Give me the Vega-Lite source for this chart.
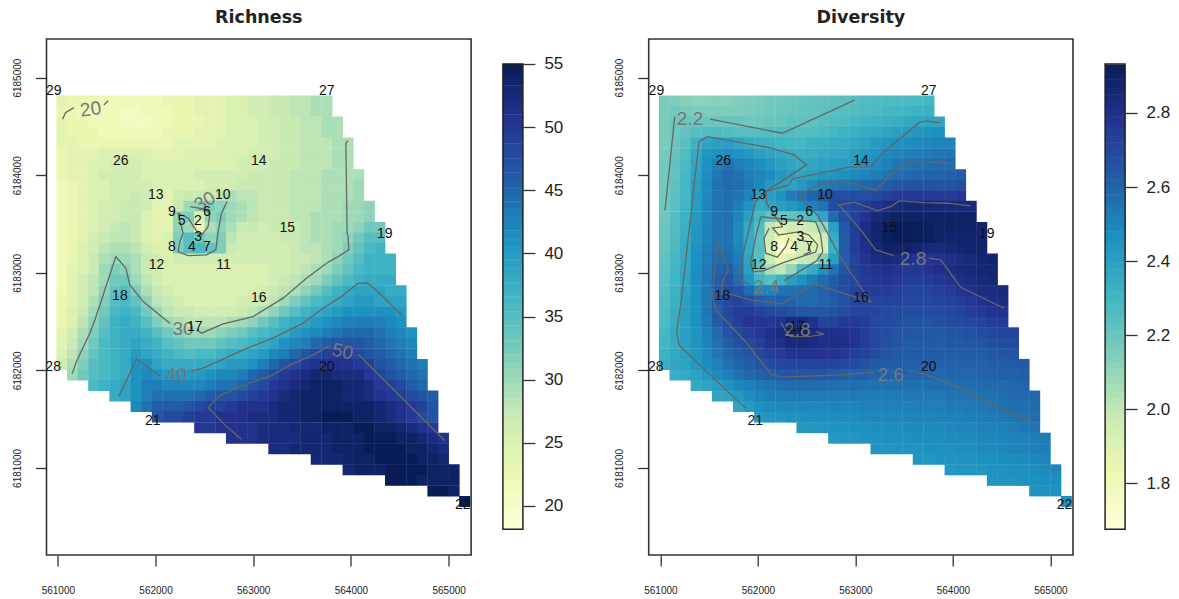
{"$schema":"https://vega.github.io/schema/vega-lite/v6.json","background":"white","padding":{"left":11.5,"top":7,"right":0,"bottom":0},"autosize":{"type":"pad"},"bounds":"flush","spacing":31.4,"config":{"view":{"stroke":"#333","strokeWidth":1.6},"axis":{"grid":false,"domain":false,"title":null,"labelFont":"Liberation Sans","labelColor":"#222","tickColor":"#333","tickWidth":1.3}},
"datasets":{
"grid":[
{"x":561041,"y":6184761,"r":24,"d":2.16},{"x":561150,"y":6184761,"r":23,"d":2.15},{"x":561258,"y":6184761,"r":23,"d":2.13},{"x":561367,"y":6184761,"r":23,"d":2.12},{"x":561475,"y":6184761,"r":22,"d":2.12},{"x":561584,"y":6184761,"r":22,"d":2.13},{"x":561692,"y":6184761,"r":22,"d":2.13},{"x":561801,"y":6184761,"r":22,"d":2.14},{"x":561909,"y":6184761,"r":22,"d":2.15},{"x":562018,"y":6184761,"r":22,"d":2.16},{"x":562126,"y":6184761,"r":23,"d":2.17},{"x":562235,"y":6184761,"r":23,"d":2.18},{"x":562343,"y":6184761,"r":23,"d":2.19},{"x":562452,"y":6184761,"r":24,"d":2.2},{"x":562560,"y":6184761,"r":24,"d":2.21},{"x":562669,"y":6184761,"r":24,"d":2.22},{"x":562777,"y":6184761,"r":25,"d":2.23},{"x":562886,"y":6184761,"r":25,"d":2.24},{"x":562994,"y":6184761,"r":26,"d":2.25},{"x":563103,"y":6184761,"r":26,"d":2.26},{"x":563211,"y":6184761,"r":27,"d":2.27},{"x":563320,"y":6184761,"r":27,"d":2.27},{"x":563428,"y":6184761,"r":28,"d":2.27},{"x":563537,"y":6184761,"r":28,"d":2.28},{"x":563645,"y":6184761,"r":29,"d":2.28},{"x":563754,"y":6184761,"r":29,"d":2.3},
{"x":561041,"y":6184653,"r":23,"d":2.16},{"x":561150,"y":6184653,"r":23,"d":2.18},{"x":561258,"y":6184653,"r":22,"d":2.16},{"x":561367,"y":6184653,"r":22,"d":2.15},{"x":561475,"y":6184653,"r":22,"d":2.15},{"x":561584,"y":6184653,"r":22,"d":2.15},{"x":561692,"y":6184653,"r":21,"d":2.15},{"x":561801,"y":6184653,"r":21,"d":2.15},{"x":561909,"y":6184653,"r":22,"d":2.16},{"x":562018,"y":6184653,"r":22,"d":2.17},{"x":562126,"y":6184653,"r":22,"d":2.18},{"x":562235,"y":6184653,"r":23,"d":2.19},{"x":562343,"y":6184653,"r":23,"d":2.2},{"x":562452,"y":6184653,"r":24,"d":2.21},{"x":562560,"y":6184653,"r":24,"d":2.22},{"x":562669,"y":6184653,"r":24,"d":2.23},{"x":562777,"y":6184653,"r":25,"d":2.24},{"x":562886,"y":6184653,"r":25,"d":2.25},{"x":562994,"y":6184653,"r":26,"d":2.26},{"x":563103,"y":6184653,"r":26,"d":2.27},{"x":563211,"y":6184653,"r":27,"d":2.28},{"x":563320,"y":6184653,"r":27,"d":2.29},{"x":563428,"y":6184653,"r":28,"d":2.3},{"x":563537,"y":6184653,"r":28,"d":2.31},{"x":563645,"y":6184653,"r":29,"d":2.32},{"x":563754,"y":6184653,"r":29,"d":2.33},
{"x":561041,"y":6184545,"r":24,"d":2.16},{"x":561150,"y":6184545,"r":23,"d":2.19},{"x":561258,"y":6184545,"r":23,"d":2.2},{"x":561367,"y":6184545,"r":22,"d":2.2},{"x":561475,"y":6184545,"r":22,"d":2.2},{"x":561584,"y":6184545,"r":22,"d":2.2},{"x":561692,"y":6184545,"r":21,"d":2.2},{"x":561801,"y":6184545,"r":21,"d":2.2},{"x":561909,"y":6184545,"r":21,"d":2.19},{"x":562018,"y":6184545,"r":22,"d":2.19},{"x":562126,"y":6184545,"r":22,"d":2.2},{"x":562235,"y":6184545,"r":23,"d":2.21},{"x":562343,"y":6184545,"r":23,"d":2.23},{"x":562452,"y":6184545,"r":23,"d":2.22},{"x":562560,"y":6184545,"r":24,"d":2.23},{"x":562669,"y":6184545,"r":24,"d":2.25},{"x":562777,"y":6184545,"r":25,"d":2.26},{"x":562886,"y":6184545,"r":25,"d":2.27},{"x":562994,"y":6184545,"r":25,"d":2.29},{"x":563103,"y":6184545,"r":26,"d":2.31},{"x":563211,"y":6184545,"r":26,"d":2.32},{"x":563320,"y":6184545,"r":27,"d":2.33},{"x":563428,"y":6184545,"r":27,"d":2.34},{"x":563537,"y":6184545,"r":28,"d":2.36},{"x":563645,"y":6184545,"r":28,"d":2.37},{"x":563754,"y":6184545,"r":29,"d":2.38},{"x":563862,"y":6184545,"r":29,"d":2.38},
{"x":561041,"y":6184437,"r":24,"d":2.16},{"x":561150,"y":6184437,"r":23,"d":2.19},{"x":561258,"y":6184437,"r":23,"d":2.22},{"x":561367,"y":6184437,"r":23,"d":2.25},{"x":561475,"y":6184437,"r":22,"d":2.26},{"x":561584,"y":6184437,"r":22,"d":2.27},{"x":561692,"y":6184437,"r":22,"d":2.26},{"x":561801,"y":6184437,"r":22,"d":2.25},{"x":561909,"y":6184437,"r":22,"d":2.25},{"x":562018,"y":6184437,"r":22,"d":2.25},{"x":562126,"y":6184437,"r":23,"d":2.25},{"x":562235,"y":6184437,"r":23,"d":2.26},{"x":562343,"y":6184437,"r":23,"d":2.26},{"x":562452,"y":6184437,"r":24,"d":2.25},{"x":562560,"y":6184437,"r":24,"d":2.26},{"x":562669,"y":6184437,"r":24,"d":2.28},{"x":562777,"y":6184437,"r":25,"d":2.3},{"x":562886,"y":6184437,"r":25,"d":2.32},{"x":562994,"y":6184437,"r":25,"d":2.33},{"x":563103,"y":6184437,"r":26,"d":2.35},{"x":563211,"y":6184437,"r":26,"d":2.36},{"x":563320,"y":6184437,"r":27,"d":2.38},{"x":563428,"y":6184437,"r":27,"d":2.4},{"x":563537,"y":6184437,"r":28,"d":2.42},{"x":563645,"y":6184437,"r":28,"d":2.44},{"x":563754,"y":6184437,"r":29,"d":2.45},{"x":563862,"y":6184437,"r":29,"d":2.46},
{"x":561041,"y":6184329,"r":24,"d":2.16},{"x":561150,"y":6184329,"r":24,"d":2.2},{"x":561258,"y":6184329,"r":23,"d":2.24},{"x":561367,"y":6184329,"r":23,"d":2.32},{"x":561475,"y":6184329,"r":23,"d":2.38},{"x":561584,"y":6184329,"r":23,"d":2.4},{"x":561692,"y":6184329,"r":23,"d":2.4},{"x":561801,"y":6184329,"r":23,"d":2.38},{"x":561909,"y":6184329,"r":23,"d":2.35},{"x":562018,"y":6184329,"r":23,"d":2.33},{"x":562126,"y":6184329,"r":23,"d":2.32},{"x":562235,"y":6184329,"r":24,"d":2.31},{"x":562343,"y":6184329,"r":24,"d":2.3},{"x":562452,"y":6184329,"r":24,"d":2.3},{"x":562560,"y":6184329,"r":24,"d":2.32},{"x":562669,"y":6184329,"r":25,"d":2.33},{"x":562777,"y":6184329,"r":25,"d":2.34},{"x":562886,"y":6184329,"r":25,"d":2.35},{"x":562994,"y":6184329,"r":25,"d":2.37},{"x":563103,"y":6184329,"r":26,"d":2.39},{"x":563211,"y":6184329,"r":26,"d":2.42},{"x":563320,"y":6184329,"r":27,"d":2.44},{"x":563428,"y":6184329,"r":27,"d":2.46},{"x":563537,"y":6184329,"r":28,"d":2.47},{"x":563645,"y":6184329,"r":28,"d":2.48},{"x":563754,"y":6184329,"r":28,"d":2.49},{"x":563862,"y":6184329,"r":29,"d":2.5},{"x":563971,"y":6184329,"r":29,"d":2.5},
{"x":561041,"y":6184221,"r":23,"d":2.17},{"x":561150,"y":6184221,"r":24,"d":2.21},{"x":561258,"y":6184221,"r":24,"d":2.26},{"x":561367,"y":6184221,"r":24,"d":2.36},{"x":561475,"y":6184221,"r":25,"d":2.44},{"x":561584,"y":6184221,"r":25,"d":2.46},{"x":561692,"y":6184221,"r":25,"d":2.47},{"x":561801,"y":6184221,"r":25,"d":2.45},{"x":561909,"y":6184221,"r":25,"d":2.43},{"x":562018,"y":6184221,"r":24,"d":2.4},{"x":562126,"y":6184221,"r":24,"d":2.38},{"x":562235,"y":6184221,"r":24,"d":2.36},{"x":562343,"y":6184221,"r":25,"d":2.34},{"x":562452,"y":6184221,"r":25,"d":2.33},{"x":562560,"y":6184221,"r":25,"d":2.34},{"x":562669,"y":6184221,"r":25,"d":2.36},{"x":562777,"y":6184221,"r":25,"d":2.37},{"x":562886,"y":6184221,"r":25,"d":2.38},{"x":562994,"y":6184221,"r":26,"d":2.4},{"x":563103,"y":6184221,"r":26,"d":2.43},{"x":563211,"y":6184221,"r":26,"d":2.45},{"x":563320,"y":6184221,"r":27,"d":2.48},{"x":563428,"y":6184221,"r":27,"d":2.5},{"x":563537,"y":6184221,"r":28,"d":2.51},{"x":563645,"y":6184221,"r":28,"d":2.52},{"x":563754,"y":6184221,"r":28,"d":2.53},{"x":563862,"y":6184221,"r":29,"d":2.54},{"x":563971,"y":6184221,"r":29,"d":2.54},
{"x":561041,"y":6184113,"r":23,"d":2.18},{"x":561150,"y":6184113,"r":24,"d":2.22},{"x":561258,"y":6184113,"r":24,"d":2.28},{"x":561367,"y":6184113,"r":25,"d":2.38},{"x":561475,"y":6184113,"r":25,"d":2.46},{"x":561584,"y":6184113,"r":26,"d":2.52},{"x":561692,"y":6184113,"r":26,"d":2.56},{"x":561801,"y":6184113,"r":26,"d":2.52},{"x":561909,"y":6184113,"r":25,"d":2.5},{"x":562018,"y":6184113,"r":25,"d":2.47},{"x":562126,"y":6184113,"r":25,"d":2.43},{"x":562235,"y":6184113,"r":25,"d":2.4},{"x":562343,"y":6184113,"r":25,"d":2.38},{"x":562452,"y":6184113,"r":25,"d":2.36},{"x":562560,"y":6184113,"r":25,"d":2.37},{"x":562669,"y":6184113,"r":25,"d":2.39},{"x":562777,"y":6184113,"r":25,"d":2.4},{"x":562886,"y":6184113,"r":26,"d":2.41},{"x":562994,"y":6184113,"r":26,"d":2.43},{"x":563103,"y":6184113,"r":26,"d":2.45},{"x":563211,"y":6184113,"r":27,"d":2.48},{"x":563320,"y":6184113,"r":27,"d":2.51},{"x":563428,"y":6184113,"r":27,"d":2.54},{"x":563537,"y":6184113,"r":28,"d":2.55},{"x":563645,"y":6184113,"r":28,"d":2.56},{"x":563754,"y":6184113,"r":28,"d":2.57},{"x":563862,"y":6184113,"r":29,"d":2.58},{"x":563971,"y":6184113,"r":29,"d":2.58},
{"x":561041,"y":6184005,"r":23,"d":2.18},{"x":561150,"y":6184005,"r":24,"d":2.22},{"x":561258,"y":6184005,"r":24,"d":2.29},{"x":561367,"y":6184005,"r":25,"d":2.39},{"x":561475,"y":6184005,"r":26,"d":2.47},{"x":561584,"y":6184005,"r":26,"d":2.54},{"x":561692,"y":6184005,"r":26,"d":2.58},{"x":561801,"y":6184005,"r":26,"d":2.56},{"x":561909,"y":6184005,"r":25,"d":2.52},{"x":562018,"y":6184005,"r":25,"d":2.5},{"x":562126,"y":6184005,"r":25,"d":2.47},{"x":562235,"y":6184005,"r":25,"d":2.43},{"x":562343,"y":6184005,"r":25,"d":2.4},{"x":562452,"y":6184005,"r":26,"d":2.38},{"x":562560,"y":6184005,"r":26,"d":2.4},{"x":562669,"y":6184005,"r":26,"d":2.43},{"x":562777,"y":6184005,"r":26,"d":2.44},{"x":562886,"y":6184005,"r":26,"d":2.46},{"x":562994,"y":6184005,"r":27,"d":2.48},{"x":563103,"y":6184005,"r":27,"d":2.5},{"x":563211,"y":6184005,"r":27,"d":2.52},{"x":563320,"y":6184005,"r":27,"d":2.55},{"x":563428,"y":6184005,"r":28,"d":2.57},{"x":563537,"y":6184005,"r":28,"d":2.58},{"x":563645,"y":6184005,"r":28,"d":2.59},{"x":563754,"y":6184005,"r":29,"d":2.6},{"x":563862,"y":6184005,"r":29,"d":2.6},{"x":563971,"y":6184005,"r":29,"d":2.61},{"x":564079,"y":6184005,"r":29,"d":2.62},
{"x":561041,"y":6183897,"r":22,"d":2.18},{"x":561150,"y":6183897,"r":23,"d":2.23},{"x":561258,"y":6183897,"r":24,"d":2.3},{"x":561367,"y":6183897,"r":25,"d":2.4},{"x":561475,"y":6183897,"r":25,"d":2.48},{"x":561584,"y":6183897,"r":26,"d":2.55},{"x":561692,"y":6183897,"r":26,"d":2.58},{"x":561801,"y":6183897,"r":26,"d":2.57},{"x":561909,"y":6183897,"r":26,"d":2.53},{"x":562018,"y":6183897,"r":25,"d":2.49},{"x":562126,"y":6183897,"r":25,"d":2.43},{"x":562235,"y":6183897,"r":25,"d":2.4},{"x":562343,"y":6183897,"r":25,"d":2.39},{"x":562452,"y":6183897,"r":25,"d":2.43},{"x":562560,"y":6183897,"r":26,"d":2.47},{"x":562669,"y":6183897,"r":26,"d":2.52},{"x":562777,"y":6183897,"r":26,"d":2.54},{"x":562886,"y":6183897,"r":27,"d":2.56},{"x":562994,"y":6183897,"r":27,"d":2.57},{"x":563103,"y":6183897,"r":27,"d":2.59},{"x":563211,"y":6183897,"r":27,"d":2.61},{"x":563320,"y":6183897,"r":27,"d":2.63},{"x":563428,"y":6183897,"r":28,"d":2.65},{"x":563537,"y":6183897,"r":28,"d":2.66},{"x":563645,"y":6183897,"r":28,"d":2.66},{"x":563754,"y":6183897,"r":29,"d":2.66},{"x":563862,"y":6183897,"r":29,"d":2.66},{"x":563971,"y":6183897,"r":29,"d":2.66},{"x":564079,"y":6183897,"r":30,"d":2.67},
{"x":561041,"y":6183789,"r":22,"d":2.19},{"x":561150,"y":6183789,"r":23,"d":2.23},{"x":561258,"y":6183789,"r":24,"d":2.3},{"x":561367,"y":6183789,"r":25,"d":2.41},{"x":561475,"y":6183789,"r":25,"d":2.48},{"x":561584,"y":6183789,"r":26,"d":2.55},{"x":561692,"y":6183789,"r":26,"d":2.57},{"x":561801,"y":6183789,"r":27,"d":2.55},{"x":561909,"y":6183789,"r":26,"d":2.5},{"x":562018,"y":6183789,"r":24,"d":2.4},{"x":562126,"y":6183789,"r":24,"d":2.4},{"x":562235,"y":6183789,"r":26,"d":2.45},{"x":562343,"y":6183789,"r":27,"d":2.52},{"x":562452,"y":6183789,"r":27,"d":2.56},{"x":562560,"y":6183789,"r":27,"d":2.6},{"x":562669,"y":6183789,"r":28,"d":2.65},{"x":562777,"y":6183789,"r":29,"d":2.68},{"x":562886,"y":6183789,"r":28,"d":2.68},{"x":562994,"y":6183789,"r":28,"d":2.68},{"x":563103,"y":6183789,"r":27,"d":2.68},{"x":563211,"y":6183789,"r":27,"d":2.7},{"x":563320,"y":6183789,"r":27,"d":2.72},{"x":563428,"y":6183789,"r":28,"d":2.75},{"x":563537,"y":6183789,"r":28,"d":2.76},{"x":563645,"y":6183789,"r":28,"d":2.76},{"x":563754,"y":6183789,"r":29,"d":2.75},{"x":563862,"y":6183789,"r":29,"d":2.75},{"x":563971,"y":6183789,"r":29,"d":2.75},{"x":564079,"y":6183789,"r":30,"d":2.76},
{"x":561041,"y":6183681,"r":22,"d":2.19},{"x":561150,"y":6183681,"r":23,"d":2.24},{"x":561258,"y":6183681,"r":24,"d":2.31},{"x":561367,"y":6183681,"r":25,"d":2.41},{"x":561475,"y":6183681,"r":26,"d":2.49},{"x":561584,"y":6183681,"r":26,"d":2.55},{"x":561692,"y":6183681,"r":27,"d":2.57},{"x":561801,"y":6183681,"r":27,"d":2.52},{"x":561909,"y":6183681,"r":26,"d":2.45},{"x":562018,"y":6183681,"r":24,"d":2.35},{"x":562126,"y":6183681,"r":24,"d":2.38},{"x":562235,"y":6183681,"r":27,"d":2.4},{"x":562343,"y":6183681,"r":30,"d":2.43},{"x":562452,"y":6183681,"r":31,"d":2.47},{"x":562560,"y":6183681,"r":32,"d":2.51},{"x":562669,"y":6183681,"r":31,"d":2.55},{"x":562777,"y":6183681,"r":30,"d":2.68},{"x":562886,"y":6183681,"r":29,"d":2.7},{"x":562994,"y":6183681,"r":28,"d":2.72},{"x":563103,"y":6183681,"r":27,"d":2.74},{"x":563211,"y":6183681,"r":27,"d":2.78},{"x":563320,"y":6183681,"r":27,"d":2.82},{"x":563428,"y":6183681,"r":28,"d":2.84},{"x":563537,"y":6183681,"r":28,"d":2.86},{"x":563645,"y":6183681,"r":28,"d":2.86},{"x":563754,"y":6183681,"r":29,"d":2.86},{"x":563862,"y":6183681,"r":29,"d":2.85},{"x":563971,"y":6183681,"r":30,"d":2.85},{"x":564079,"y":6183681,"r":30,"d":2.85},{"x":564188,"y":6183681,"r":31,"d":2.85},
{"x":561041,"y":6183573,"r":22,"d":2.19},{"x":561150,"y":6183573,"r":23,"d":2.25},{"x":561258,"y":6183573,"r":24,"d":2.32},{"x":561367,"y":6183573,"r":25,"d":2.42},{"x":561475,"y":6183573,"r":26,"d":2.49},{"x":561584,"y":6183573,"r":26,"d":2.55},{"x":561692,"y":6183573,"r":27,"d":2.56},{"x":561801,"y":6183573,"r":27,"d":2.5},{"x":561909,"y":6183573,"r":25,"d":2.4},{"x":562018,"y":6183573,"r":24,"d":2.3},{"x":562126,"y":6183573,"r":24,"d":2.22},{"x":562235,"y":6183573,"r":31,"d":2.2},{"x":562343,"y":6183573,"r":32,"d":2.22},{"x":562452,"y":6183573,"r":25,"d":2.25},{"x":562560,"y":6183573,"r":31,"d":2.28},{"x":562669,"y":6183573,"r":32,"d":2.38},{"x":562777,"y":6183573,"r":30,"d":2.58},{"x":562886,"y":6183573,"r":29,"d":2.68},{"x":562994,"y":6183573,"r":28,"d":2.73},{"x":563103,"y":6183573,"r":27,"d":2.78},{"x":563211,"y":6183573,"r":27,"d":2.85},{"x":563320,"y":6183573,"r":27,"d":2.88},{"x":563428,"y":6183573,"r":28,"d":2.9},{"x":563537,"y":6183573,"r":28,"d":2.9},{"x":563645,"y":6183573,"r":29,"d":2.9},{"x":563754,"y":6183573,"r":29,"d":2.9},{"x":563862,"y":6183573,"r":29,"d":2.9},{"x":563971,"y":6183573,"r":30,"d":2.89},{"x":564079,"y":6183573,"r":30,"d":2.89},{"x":564188,"y":6183573,"r":31,"d":2.89},
{"x":561041,"y":6183465,"r":22,"d":2.2},{"x":561150,"y":6183465,"r":23,"d":2.26},{"x":561258,"y":6183465,"r":24,"d":2.33},{"x":561367,"y":6183465,"r":25,"d":2.43},{"x":561475,"y":6183465,"r":26,"d":2.5},{"x":561584,"y":6183465,"r":27,"d":2.55},{"x":561692,"y":6183465,"r":28,"d":2.56},{"x":561801,"y":6183465,"r":27,"d":2.48},{"x":561909,"y":6183465,"r":25,"d":2.36},{"x":562018,"y":6183465,"r":24,"d":2.26},{"x":562126,"y":6183465,"r":24,"d":2},{"x":562235,"y":6183465,"r":31,"d":1.9},{"x":562343,"y":6183465,"r":30,"d":1.95},{"x":562452,"y":6183465,"r":23,"d":1.96},{"x":562560,"y":6183465,"r":29,"d":1.98},{"x":562669,"y":6183465,"r":31,"d":2.1},{"x":562777,"y":6183465,"r":29,"d":2.4},{"x":562886,"y":6183465,"r":27,"d":2.64},{"x":562994,"y":6183465,"r":27,"d":2.74},{"x":563103,"y":6183465,"r":26,"d":2.82},{"x":563211,"y":6183465,"r":27,"d":2.88},{"x":563320,"y":6183465,"r":27,"d":2.91},{"x":563428,"y":6183465,"r":27,"d":2.93},{"x":563537,"y":6183465,"r":28,"d":2.93},{"x":563645,"y":6183465,"r":29,"d":2.92},{"x":563754,"y":6183465,"r":29,"d":2.91},{"x":563862,"y":6183465,"r":30,"d":2.9},{"x":563971,"y":6183465,"r":30,"d":2.9},{"x":564079,"y":6183465,"r":31,"d":2.9},{"x":564188,"y":6183465,"r":33,"d":2.89},{"x":564296,"y":6183465,"r":33,"d":2.88},
{"x":561041,"y":6183357,"r":22,"d":2.2},{"x":561150,"y":6183357,"r":23,"d":2.27},{"x":561258,"y":6183357,"r":24,"d":2.34},{"x":561367,"y":6183357,"r":26,"d":2.44},{"x":561475,"y":6183357,"r":27,"d":2.5},{"x":561584,"y":6183357,"r":28,"d":2.55},{"x":561692,"y":6183357,"r":28,"d":2.55},{"x":561801,"y":6183357,"r":27,"d":2.48},{"x":561909,"y":6183357,"r":25,"d":2.35},{"x":562018,"y":6183357,"r":24,"d":2.24},{"x":562126,"y":6183357,"r":25,"d":1.95},{"x":562235,"y":6183357,"r":32,"d":1.82},{"x":562343,"y":6183357,"r":35,"d":1.85},{"x":562452,"y":6183357,"r":33,"d":1.9},{"x":562560,"y":6183357,"r":31,"d":1.9},{"x":562669,"y":6183357,"r":32,"d":1.95},{"x":562777,"y":6183357,"r":28,"d":2.35},{"x":562886,"y":6183357,"r":26,"d":2.62},{"x":562994,"y":6183357,"r":26,"d":2.74},{"x":563103,"y":6183357,"r":26,"d":2.82},{"x":563211,"y":6183357,"r":26,"d":2.87},{"x":563320,"y":6183357,"r":27,"d":2.92},{"x":563428,"y":6183357,"r":27,"d":2.93},{"x":563537,"y":6183357,"r":28,"d":2.93},{"x":563645,"y":6183357,"r":29,"d":2.92},{"x":563754,"y":6183357,"r":29,"d":2.91},{"x":563862,"y":6183357,"r":30,"d":2.89},{"x":563971,"y":6183357,"r":31,"d":2.88},{"x":564079,"y":6183357,"r":33,"d":2.88},{"x":564188,"y":6183357,"r":35,"d":2.88},{"x":564296,"y":6183357,"r":35,"d":2.88},
{"x":561041,"y":6183249,"r":22,"d":2.21},{"x":561150,"y":6183249,"r":23,"d":2.28},{"x":561258,"y":6183249,"r":25,"d":2.35},{"x":561367,"y":6183249,"r":26,"d":2.45},{"x":561475,"y":6183249,"r":28,"d":2.51},{"x":561584,"y":6183249,"r":29,"d":2.56},{"x":561692,"y":6183249,"r":29,"d":2.56},{"x":561801,"y":6183249,"r":28,"d":2.5},{"x":561909,"y":6183249,"r":26,"d":2.36},{"x":562018,"y":6183249,"r":25,"d":2.25},{"x":562126,"y":6183249,"r":25,"d":1.93},{"x":562235,"y":6183249,"r":32,"d":1.72},{"x":562343,"y":6183249,"r":35,"d":1.78},{"x":562452,"y":6183249,"r":36,"d":1.94},{"x":562560,"y":6183249,"r":34,"d":1.9},{"x":562669,"y":6183249,"r":32,"d":1.92},{"x":562777,"y":6183249,"r":27,"d":2.32},{"x":562886,"y":6183249,"r":26,"d":2.62},{"x":562994,"y":6183249,"r":26,"d":2.74},{"x":563103,"y":6183249,"r":26,"d":2.81},{"x":563211,"y":6183249,"r":26,"d":2.85},{"x":563320,"y":6183249,"r":26,"d":2.89},{"x":563428,"y":6183249,"r":27,"d":2.9},{"x":563537,"y":6183249,"r":28,"d":2.89},{"x":563645,"y":6183249,"r":28,"d":2.87},{"x":563754,"y":6183249,"r":29,"d":2.85},{"x":563862,"y":6183249,"r":30,"d":2.85},{"x":563971,"y":6183249,"r":32,"d":2.86},{"x":564079,"y":6183249,"r":34,"d":2.87},{"x":564188,"y":6183249,"r":36,"d":2.88},{"x":564296,"y":6183249,"r":37,"d":2.88},
{"x":561041,"y":6183141,"r":22,"d":2.22},{"x":561150,"y":6183141,"r":23,"d":2.29},{"x":561258,"y":6183141,"r":25,"d":2.36},{"x":561367,"y":6183141,"r":27,"d":2.46},{"x":561475,"y":6183141,"r":29,"d":2.52},{"x":561584,"y":6183141,"r":30,"d":2.58},{"x":561692,"y":6183141,"r":30,"d":2.58},{"x":561801,"y":6183141,"r":29,"d":2.52},{"x":561909,"y":6183141,"r":27,"d":2.38},{"x":562018,"y":6183141,"r":26,"d":2.24},{"x":562126,"y":6183141,"r":25,"d":1.98},{"x":562235,"y":6183141,"r":26,"d":1.85},{"x":562343,"y":6183141,"r":26,"d":1.9},{"x":562452,"y":6183141,"r":26,"d":1.98},{"x":562560,"y":6183141,"r":26,"d":2},{"x":562669,"y":6183141,"r":26,"d":2.15},{"x":562777,"y":6183141,"r":26,"d":2.4},{"x":562886,"y":6183141,"r":26,"d":2.62},{"x":562994,"y":6183141,"r":26,"d":2.72},{"x":563103,"y":6183141,"r":26,"d":2.78},{"x":563211,"y":6183141,"r":26,"d":2.82},{"x":563320,"y":6183141,"r":26,"d":2.84},{"x":563428,"y":6183141,"r":27,"d":2.83},{"x":563537,"y":6183141,"r":27,"d":2.8},{"x":563645,"y":6183141,"r":28,"d":2.77},{"x":563754,"y":6183141,"r":29,"d":2.77},{"x":563862,"y":6183141,"r":31,"d":2.79},{"x":563971,"y":6183141,"r":33,"d":2.81},{"x":564079,"y":6183141,"r":35,"d":2.83},{"x":564188,"y":6183141,"r":37,"d":2.85},{"x":564296,"y":6183141,"r":37,"d":2.87},{"x":564405,"y":6183141,"r":37,"d":2.88},
{"x":561041,"y":6183033,"r":22,"d":2.23},{"x":561150,"y":6183033,"r":24,"d":2.3},{"x":561258,"y":6183033,"r":25,"d":2.37},{"x":561367,"y":6183033,"r":27,"d":2.47},{"x":561475,"y":6183033,"r":30,"d":2.53},{"x":561584,"y":6183033,"r":32,"d":2.6},{"x":561692,"y":6183033,"r":31,"d":2.62},{"x":561801,"y":6183033,"r":29,"d":2.55},{"x":561909,"y":6183033,"r":27,"d":2.4},{"x":562018,"y":6183033,"r":26,"d":2.22},{"x":562126,"y":6183033,"r":25,"d":2.05},{"x":562235,"y":6183033,"r":25,"d":2},{"x":562343,"y":6183033,"r":25,"d":2.1},{"x":562452,"y":6183033,"r":25,"d":2.28},{"x":562560,"y":6183033,"r":25,"d":2.35},{"x":562669,"y":6183033,"r":25,"d":2.45},{"x":562777,"y":6183033,"r":25,"d":2.55},{"x":562886,"y":6183033,"r":25,"d":2.65},{"x":562994,"y":6183033,"r":25,"d":2.72},{"x":563103,"y":6183033,"r":25,"d":2.76},{"x":563211,"y":6183033,"r":26,"d":2.79},{"x":563320,"y":6183033,"r":26,"d":2.8},{"x":563428,"y":6183033,"r":27,"d":2.78},{"x":563537,"y":6183033,"r":28,"d":2.76},{"x":563645,"y":6183033,"r":29,"d":2.77},{"x":563754,"y":6183033,"r":30,"d":2.78},{"x":563862,"y":6183033,"r":32,"d":2.8},{"x":563971,"y":6183033,"r":34,"d":2.82},{"x":564079,"y":6183033,"r":36,"d":2.84},{"x":564188,"y":6183033,"r":37,"d":2.85},{"x":564296,"y":6183033,"r":37,"d":2.86},{"x":564405,"y":6183033,"r":37,"d":2.87},
{"x":561041,"y":6182925,"r":22,"d":2.24},{"x":561150,"y":6182925,"r":24,"d":2.31},{"x":561258,"y":6182925,"r":26,"d":2.38},{"x":561367,"y":6182925,"r":28,"d":2.47},{"x":561475,"y":6182925,"r":30,"d":2.54},{"x":561584,"y":6182925,"r":33,"d":2.62},{"x":561692,"y":6182925,"r":33,"d":2.66},{"x":561801,"y":6182925,"r":30,"d":2.58},{"x":561909,"y":6182925,"r":28,"d":2.44},{"x":562018,"y":6182925,"r":26,"d":2.3},{"x":562126,"y":6182925,"r":25,"d":2.25},{"x":562235,"y":6182925,"r":25,"d":2.32},{"x":562343,"y":6182925,"r":25,"d":2.4},{"x":562452,"y":6182925,"r":25,"d":2.46},{"x":562560,"y":6182925,"r":25,"d":2.52},{"x":562669,"y":6182925,"r":25,"d":2.58},{"x":562777,"y":6182925,"r":25,"d":2.63},{"x":562886,"y":6182925,"r":25,"d":2.68},{"x":562994,"y":6182925,"r":25,"d":2.72},{"x":563103,"y":6182925,"r":25,"d":2.75},{"x":563211,"y":6182925,"r":26,"d":2.77},{"x":563320,"y":6182925,"r":27,"d":2.78},{"x":563428,"y":6182925,"r":28,"d":2.76},{"x":563537,"y":6182925,"r":29,"d":2.74},{"x":563645,"y":6182925,"r":30,"d":2.74},{"x":563754,"y":6182925,"r":32,"d":2.75},{"x":563862,"y":6182925,"r":34,"d":2.77},{"x":563971,"y":6182925,"r":36,"d":2.79},{"x":564079,"y":6182925,"r":37,"d":2.81},{"x":564188,"y":6182925,"r":38,"d":2.83},{"x":564296,"y":6182925,"r":38,"d":2.85},{"x":564405,"y":6182925,"r":38,"d":2.86},
{"x":561041,"y":6182817,"r":22,"d":2.25},{"x":561150,"y":6182817,"r":24,"d":2.32},{"x":561258,"y":6182817,"r":26,"d":2.39},{"x":561367,"y":6182817,"r":28,"d":2.46},{"x":561475,"y":6182817,"r":31,"d":2.54},{"x":561584,"y":6182817,"r":34,"d":2.64},{"x":561692,"y":6182817,"r":35,"d":2.68},{"x":561801,"y":6182817,"r":32,"d":2.65},{"x":561909,"y":6182817,"r":29,"d":2.58},{"x":562018,"y":6182817,"r":27,"d":2.5},{"x":562126,"y":6182817,"r":26,"d":2.5},{"x":562235,"y":6182817,"r":25,"d":2.55},{"x":562343,"y":6182817,"r":25,"d":2.56},{"x":562452,"y":6182817,"r":25,"d":2.57},{"x":562560,"y":6182817,"r":25,"d":2.58},{"x":562669,"y":6182817,"r":25,"d":2.6},{"x":562777,"y":6182817,"r":25,"d":2.64},{"x":562886,"y":6182817,"r":25,"d":2.68},{"x":562994,"y":6182817,"r":25,"d":2.72},{"x":563103,"y":6182817,"r":26,"d":2.74},{"x":563211,"y":6182817,"r":27,"d":2.75},{"x":563320,"y":6182817,"r":28,"d":2.75},{"x":563428,"y":6182817,"r":29,"d":2.73},{"x":563537,"y":6182817,"r":31,"d":2.72},{"x":563645,"y":6182817,"r":33,"d":2.72},{"x":563754,"y":6182817,"r":35,"d":2.72},{"x":563862,"y":6182817,"r":37,"d":2.73},{"x":563971,"y":6182817,"r":38,"d":2.75},{"x":564079,"y":6182817,"r":39,"d":2.78},{"x":564188,"y":6182817,"r":39,"d":2.8},{"x":564296,"y":6182817,"r":39,"d":2.82},{"x":564405,"y":6182817,"r":38,"d":2.83},{"x":564513,"y":6182817,"r":38,"d":2.84},
{"x":561041,"y":6182709,"r":23,"d":2.26},{"x":561150,"y":6182709,"r":24,"d":2.33},{"x":561258,"y":6182709,"r":26,"d":2.4},{"x":561367,"y":6182709,"r":29,"d":2.46},{"x":561475,"y":6182709,"r":32,"d":2.54},{"x":561584,"y":6182709,"r":35,"d":2.64},{"x":561692,"y":6182709,"r":36,"d":2.7},{"x":561801,"y":6182709,"r":34,"d":2.72},{"x":561909,"y":6182709,"r":31,"d":2.68},{"x":562018,"y":6182709,"r":28,"d":2.62},{"x":562126,"y":6182709,"r":27,"d":2.6},{"x":562235,"y":6182709,"r":26,"d":2.61},{"x":562343,"y":6182709,"r":25,"d":2.6},{"x":562452,"y":6182709,"r":25,"d":2.58},{"x":562560,"y":6182709,"r":25,"d":2.58},{"x":562669,"y":6182709,"r":25,"d":2.6},{"x":562777,"y":6182709,"r":25,"d":2.63},{"x":562886,"y":6182709,"r":26,"d":2.67},{"x":562994,"y":6182709,"r":26,"d":2.71},{"x":563103,"y":6182709,"r":27,"d":2.72},{"x":563211,"y":6182709,"r":28,"d":2.72},{"x":563320,"y":6182709,"r":30,"d":2.72},{"x":563428,"y":6182709,"r":32,"d":2.71},{"x":563537,"y":6182709,"r":34,"d":2.7},{"x":563645,"y":6182709,"r":36,"d":2.7},{"x":563754,"y":6182709,"r":37,"d":2.7},{"x":563862,"y":6182709,"r":38,"d":2.71},{"x":563971,"y":6182709,"r":39,"d":2.72},{"x":564079,"y":6182709,"r":40,"d":2.74},{"x":564188,"y":6182709,"r":40,"d":2.77},{"x":564296,"y":6182709,"r":39,"d":2.79},{"x":564405,"y":6182709,"r":39,"d":2.81},{"x":564513,"y":6182709,"r":39,"d":2.82},
{"x":561041,"y":6182601,"r":23,"d":2.27},{"x":561150,"y":6182601,"r":25,"d":2.34},{"x":561258,"y":6182601,"r":27,"d":2.4},{"x":561367,"y":6182601,"r":30,"d":2.46},{"x":561475,"y":6182601,"r":33,"d":2.54},{"x":561584,"y":6182601,"r":36,"d":2.63},{"x":561692,"y":6182601,"r":37,"d":2.7},{"x":561801,"y":6182601,"r":36,"d":2.74},{"x":561909,"y":6182601,"r":33,"d":2.75},{"x":562018,"y":6182601,"r":30,"d":2.72},{"x":562126,"y":6182601,"r":28,"d":2.7},{"x":562235,"y":6182601,"r":27,"d":2.68},{"x":562343,"y":6182601,"r":27,"d":2.67},{"x":562452,"y":6182601,"r":26,"d":2.65},{"x":562560,"y":6182601,"r":26,"d":2.64},{"x":562669,"y":6182601,"r":26,"d":2.64},{"x":562777,"y":6182601,"r":26,"d":2.66},{"x":562886,"y":6182601,"r":27,"d":2.68},{"x":562994,"y":6182601,"r":28,"d":2.71},{"x":563103,"y":6182601,"r":29,"d":2.72},{"x":563211,"y":6182601,"r":31,"d":2.71},{"x":563320,"y":6182601,"r":33,"d":2.7},{"x":563428,"y":6182601,"r":35,"d":2.69},{"x":563537,"y":6182601,"r":37,"d":2.68},{"x":563645,"y":6182601,"r":38,"d":2.68},{"x":563754,"y":6182601,"r":39,"d":2.68},{"x":563862,"y":6182601,"r":40,"d":2.69},{"x":563971,"y":6182601,"r":41,"d":2.7},{"x":564079,"y":6182601,"r":41,"d":2.72},{"x":564188,"y":6182601,"r":41,"d":2.74},{"x":564296,"y":6182601,"r":41,"d":2.76},{"x":564405,"y":6182601,"r":41,"d":2.78},{"x":564513,"y":6182601,"r":40,"d":2.79},
{"x":561041,"y":6182493,"r":23,"d":2.28},{"x":561150,"y":6182493,"r":25,"d":2.34},{"x":561258,"y":6182493,"r":28,"d":2.4},{"x":561367,"y":6182493,"r":31,"d":2.46},{"x":561475,"y":6182493,"r":34,"d":2.53},{"x":561584,"y":6182493,"r":37,"d":2.62},{"x":561692,"y":6182493,"r":38,"d":2.68},{"x":561801,"y":6182493,"r":37,"d":2.73},{"x":561909,"y":6182493,"r":35,"d":2.78},{"x":562018,"y":6182493,"r":32,"d":2.77},{"x":562126,"y":6182493,"r":30,"d":2.76},{"x":562235,"y":6182493,"r":29,"d":2.78},{"x":562343,"y":6182493,"r":28,"d":2.83},{"x":562452,"y":6182493,"r":28,"d":2.84},{"x":562560,"y":6182493,"r":28,"d":2.8},{"x":562669,"y":6182493,"r":28,"d":2.72},{"x":562777,"y":6182493,"r":29,"d":2.73},{"x":562886,"y":6182493,"r":30,"d":2.76},{"x":562994,"y":6182493,"r":31,"d":2.76},{"x":563103,"y":6182493,"r":33,"d":2.74},{"x":563211,"y":6182493,"r":35,"d":2.7},{"x":563320,"y":6182493,"r":37,"d":2.69},{"x":563428,"y":6182493,"r":38,"d":2.68},{"x":563537,"y":6182493,"r":39,"d":2.66},{"x":563645,"y":6182493,"r":40,"d":2.66},{"x":563754,"y":6182493,"r":41,"d":2.66},{"x":563862,"y":6182493,"r":42,"d":2.67},{"x":563971,"y":6182493,"r":43,"d":2.68},{"x":564079,"y":6182493,"r":43,"d":2.69},{"x":564188,"y":6182493,"r":43,"d":2.7},{"x":564296,"y":6182493,"r":43,"d":2.72},{"x":564405,"y":6182493,"r":42,"d":2.74},{"x":564513,"y":6182493,"r":41,"d":2.75},
{"x":561041,"y":6182385,"r":24,"d":2.29},{"x":561150,"y":6182385,"r":26,"d":2.35},{"x":561258,"y":6182385,"r":29,"d":2.4},{"x":561367,"y":6182385,"r":32,"d":2.45},{"x":561475,"y":6182385,"r":35,"d":2.51},{"x":561584,"y":6182385,"r":37,"d":2.58},{"x":561692,"y":6182385,"r":38,"d":2.65},{"x":561801,"y":6182385,"r":38,"d":2.7},{"x":561909,"y":6182385,"r":37,"d":2.73},{"x":562018,"y":6182385,"r":35,"d":2.76},{"x":562126,"y":6182385,"r":33,"d":2.8},{"x":562235,"y":6182385,"r":31,"d":2.83},{"x":562343,"y":6182385,"r":30,"d":2.9},{"x":562452,"y":6182385,"r":30,"d":2.9},{"x":562560,"y":6182385,"r":30,"d":2.84},{"x":562669,"y":6182385,"r":31,"d":2.8},{"x":562777,"y":6182385,"r":32,"d":2.8},{"x":562886,"y":6182385,"r":33,"d":2.8},{"x":562994,"y":6182385,"r":35,"d":2.78},{"x":563103,"y":6182385,"r":36,"d":2.74},{"x":563211,"y":6182385,"r":37,"d":2.7},{"x":563320,"y":6182385,"r":38,"d":2.68},{"x":563428,"y":6182385,"r":40,"d":2.66},{"x":563537,"y":6182385,"r":41,"d":2.65},{"x":563645,"y":6182385,"r":42,"d":2.64},{"x":563754,"y":6182385,"r":43,"d":2.64},{"x":563862,"y":6182385,"r":44,"d":2.64},{"x":563971,"y":6182385,"r":45,"d":2.65},{"x":564079,"y":6182385,"r":45,"d":2.66},{"x":564188,"y":6182385,"r":45,"d":2.67},{"x":564296,"y":6182385,"r":44,"d":2.68},{"x":564405,"y":6182385,"r":43,"d":2.7},{"x":564513,"y":6182385,"r":42,"d":2.71},{"x":564622,"y":6182385,"r":41,"d":2.72},
{"x":561041,"y":6182277,"r":24,"d":2.3},{"x":561150,"y":6182277,"r":27,"d":2.35},{"x":561258,"y":6182277,"r":30,"d":2.4},{"x":561367,"y":6182277,"r":33,"d":2.45},{"x":561475,"y":6182277,"r":36,"d":2.5},{"x":561584,"y":6182277,"r":37,"d":2.56},{"x":561692,"y":6182277,"r":38,"d":2.62},{"x":561801,"y":6182277,"r":39,"d":2.67},{"x":561909,"y":6182277,"r":38,"d":2.7},{"x":562018,"y":6182277,"r":37,"d":2.73},{"x":562126,"y":6182277,"r":35,"d":2.78},{"x":562235,"y":6182277,"r":34,"d":2.8},{"x":562343,"y":6182277,"r":33,"d":2.84},{"x":562452,"y":6182277,"r":33,"d":2.84},{"x":562560,"y":6182277,"r":33,"d":2.82},{"x":562669,"y":6182277,"r":34,"d":2.81},{"x":562777,"y":6182277,"r":35,"d":2.81},{"x":562886,"y":6182277,"r":36,"d":2.81},{"x":562994,"y":6182277,"r":37,"d":2.78},{"x":563103,"y":6182277,"r":38,"d":2.74},{"x":563211,"y":6182277,"r":39,"d":2.7},{"x":563320,"y":6182277,"r":41,"d":2.67},{"x":563428,"y":6182277,"r":42,"d":2.65},{"x":563537,"y":6182277,"r":43,"d":2.63},{"x":563645,"y":6182277,"r":45,"d":2.63},{"x":563754,"y":6182277,"r":46,"d":2.63},{"x":563862,"y":6182277,"r":47,"d":2.63},{"x":563971,"y":6182277,"r":47,"d":2.64},{"x":564079,"y":6182277,"r":47,"d":2.64},{"x":564188,"y":6182277,"r":46,"d":2.65},{"x":564296,"y":6182277,"r":45,"d":2.66},{"x":564405,"y":6182277,"r":44,"d":2.67},{"x":564513,"y":6182277,"r":43,"d":2.68},{"x":564622,"y":6182277,"r":42,"d":2.69},
{"x":561041,"y":6182169,"r":25,"d":2.32},{"x":561150,"y":6182169,"r":28,"d":2.36},{"x":561258,"y":6182169,"r":31,"d":2.4},{"x":561367,"y":6182169,"r":34,"d":2.44},{"x":561475,"y":6182169,"r":36,"d":2.48},{"x":561584,"y":6182169,"r":37,"d":2.54},{"x":561692,"y":6182169,"r":38,"d":2.59},{"x":561801,"y":6182169,"r":40,"d":2.63},{"x":561909,"y":6182169,"r":39,"d":2.66},{"x":562018,"y":6182169,"r":38,"d":2.7},{"x":562126,"y":6182169,"r":37,"d":2.73},{"x":562235,"y":6182169,"r":36,"d":2.75},{"x":562343,"y":6182169,"r":35,"d":2.78},{"x":562452,"y":6182169,"r":36,"d":2.79},{"x":562560,"y":6182169,"r":36,"d":2.78},{"x":562669,"y":6182169,"r":37,"d":2.78},{"x":562777,"y":6182169,"r":38,"d":2.78},{"x":562886,"y":6182169,"r":38,"d":2.76},{"x":562994,"y":6182169,"r":39,"d":2.73},{"x":563103,"y":6182169,"r":40,"d":2.71},{"x":563211,"y":6182169,"r":42,"d":2.68},{"x":563320,"y":6182169,"r":43,"d":2.65},{"x":563428,"y":6182169,"r":45,"d":2.64},{"x":563537,"y":6182169,"r":47,"d":2.63},{"x":563645,"y":6182169,"r":48,"d":2.62},{"x":563754,"y":6182169,"r":49,"d":2.62},{"x":563862,"y":6182169,"r":50,"d":2.62},{"x":563971,"y":6182169,"r":49,"d":2.62},{"x":564079,"y":6182169,"r":48,"d":2.62},{"x":564188,"y":6182169,"r":47,"d":2.63},{"x":564296,"y":6182169,"r":46,"d":2.63},{"x":564405,"y":6182169,"r":45,"d":2.64},{"x":564513,"y":6182169,"r":44,"d":2.65},{"x":564622,"y":6182169,"r":43,"d":2.66},
{"x":561041,"y":6182061,"r":26,"d":2.34},{"x":561150,"y":6182061,"r":29,"d":2.37},{"x":561258,"y":6182061,"r":32,"d":2.39},{"x":561367,"y":6182061,"r":35,"d":2.43},{"x":561475,"y":6182061,"r":36,"d":2.47},{"x":561584,"y":6182061,"r":37,"d":2.51},{"x":561692,"y":6182061,"r":38,"d":2.56},{"x":561801,"y":6182061,"r":41,"d":2.6},{"x":561909,"y":6182061,"r":41,"d":2.63},{"x":562018,"y":6182061,"r":39,"d":2.66},{"x":562126,"y":6182061,"r":38,"d":2.68},{"x":562235,"y":6182061,"r":38,"d":2.7},{"x":562343,"y":6182061,"r":38,"d":2.71},{"x":562452,"y":6182061,"r":38,"d":2.72},{"x":562560,"y":6182061,"r":38,"d":2.72},{"x":562669,"y":6182061,"r":39,"d":2.72},{"x":562777,"y":6182061,"r":40,"d":2.72},{"x":562886,"y":6182061,"r":40,"d":2.7},{"x":562994,"y":6182061,"r":41,"d":2.68},{"x":563103,"y":6182061,"r":43,"d":2.66},{"x":563211,"y":6182061,"r":45,"d":2.64},{"x":563320,"y":6182061,"r":47,"d":2.63},{"x":563428,"y":6182061,"r":48,"d":2.62},{"x":563537,"y":6182061,"r":50,"d":2.61},{"x":563645,"y":6182061,"r":51,"d":2.61},{"x":563754,"y":6182061,"r":51,"d":2.61},{"x":563862,"y":6182061,"r":51,"d":2.61},{"x":563971,"y":6182061,"r":51,"d":2.61},{"x":564079,"y":6182061,"r":50,"d":2.61},{"x":564188,"y":6182061,"r":49,"d":2.61},{"x":564296,"y":6182061,"r":47,"d":2.61},{"x":564405,"y":6182061,"r":46,"d":2.62},{"x":564513,"y":6182061,"r":45,"d":2.62},{"x":564622,"y":6182061,"r":44,"d":2.63},{"x":564730,"y":6182061,"r":43,"d":2.64},
{"x":561150,"y":6181953,"r":30,"d":2.34},{"x":561258,"y":6181953,"r":33,"d":2.36},{"x":561367,"y":6181953,"r":35,"d":2.39},{"x":561475,"y":6181953,"r":36,"d":2.43},{"x":561584,"y":6181953,"r":37,"d":2.48},{"x":561692,"y":6181953,"r":38,"d":2.52},{"x":561801,"y":6181953,"r":41,"d":2.56},{"x":561909,"y":6181953,"r":42,"d":2.59},{"x":562018,"y":6181953,"r":41,"d":2.61},{"x":562126,"y":6181953,"r":40,"d":2.63},{"x":562235,"y":6181953,"r":40,"d":2.64},{"x":562343,"y":6181953,"r":40,"d":2.65},{"x":562452,"y":6181953,"r":40,"d":2.65},{"x":562560,"y":6181953,"r":41,"d":2.65},{"x":562669,"y":6181953,"r":42,"d":2.65},{"x":562777,"y":6181953,"r":42,"d":2.64},{"x":562886,"y":6181953,"r":43,"d":2.62},{"x":562994,"y":6181953,"r":45,"d":2.61},{"x":563103,"y":6181953,"r":46,"d":2.61},{"x":563211,"y":6181953,"r":48,"d":2.6},{"x":563320,"y":6181953,"r":50,"d":2.6},{"x":563428,"y":6181953,"r":51,"d":2.6},{"x":563537,"y":6181953,"r":52,"d":2.6},{"x":563645,"y":6181953,"r":53,"d":2.6},{"x":563754,"y":6181953,"r":53,"d":2.6},{"x":563862,"y":6181953,"r":52,"d":2.59},{"x":563971,"y":6181953,"r":52,"d":2.59},{"x":564079,"y":6181953,"r":52,"d":2.59},{"x":564188,"y":6181953,"r":50,"d":2.59},{"x":564296,"y":6181953,"r":49,"d":2.6},{"x":564405,"y":6181953,"r":47,"d":2.6},{"x":564513,"y":6181953,"r":46,"d":2.61},{"x":564622,"y":6181953,"r":45,"d":2.61},{"x":564730,"y":6181953,"r":44,"d":2.62},
{"x":561367,"y":6181845,"r":36,"d":2.36},{"x":561475,"y":6181845,"r":37,"d":2.38},{"x":561584,"y":6181845,"r":38,"d":2.41},{"x":561692,"y":6181845,"r":39,"d":2.45},{"x":561801,"y":6181845,"r":41,"d":2.49},{"x":561909,"y":6181845,"r":43,"d":2.51},{"x":562018,"y":6181845,"r":43,"d":2.53},{"x":562126,"y":6181845,"r":42,"d":2.55},{"x":562235,"y":6181845,"r":42,"d":2.57},{"x":562343,"y":6181845,"r":42,"d":2.58},{"x":562452,"y":6181845,"r":42,"d":2.58},{"x":562560,"y":6181845,"r":43,"d":2.58},{"x":562669,"y":6181845,"r":44,"d":2.57},{"x":562777,"y":6181845,"r":44,"d":2.57},{"x":562886,"y":6181845,"r":45,"d":2.57},{"x":562994,"y":6181845,"r":47,"d":2.57},{"x":563103,"y":6181845,"r":48,"d":2.56},{"x":563211,"y":6181845,"r":50,"d":2.56},{"x":563320,"y":6181845,"r":51,"d":2.56},{"x":563428,"y":6181845,"r":52,"d":2.56},{"x":563537,"y":6181845,"r":53,"d":2.56},{"x":563645,"y":6181845,"r":54,"d":2.56},{"x":563754,"y":6181845,"r":54,"d":2.57},{"x":563862,"y":6181845,"r":54,"d":2.57},{"x":563971,"y":6181845,"r":53,"d":2.57},{"x":564079,"y":6181845,"r":53,"d":2.57},{"x":564188,"y":6181845,"r":52,"d":2.57},{"x":564296,"y":6181845,"r":50,"d":2.58},{"x":564405,"y":6181845,"r":49,"d":2.58},{"x":564513,"y":6181845,"r":48,"d":2.58},{"x":564622,"y":6181845,"r":46,"d":2.59},{"x":564730,"y":6181845,"r":45,"d":2.6},
{"x":561584,"y":6181737,"r":38,"d":2.38},{"x":561692,"y":6181737,"r":39,"d":2.39},{"x":561801,"y":6181737,"r":41,"d":2.43},{"x":561909,"y":6181737,"r":43,"d":2.47},{"x":562018,"y":6181737,"r":44,"d":2.5},{"x":562126,"y":6181737,"r":44,"d":2.52},{"x":562235,"y":6181737,"r":44,"d":2.53},{"x":562343,"y":6181737,"r":44,"d":2.53},{"x":562452,"y":6181737,"r":45,"d":2.53},{"x":562560,"y":6181737,"r":46,"d":2.53},{"x":562669,"y":6181737,"r":47,"d":2.53},{"x":562777,"y":6181737,"r":47,"d":2.53},{"x":562886,"y":6181737,"r":48,"d":2.53},{"x":562994,"y":6181737,"r":49,"d":2.53},{"x":563103,"y":6181737,"r":50,"d":2.53},{"x":563211,"y":6181737,"r":51,"d":2.53},{"x":563320,"y":6181737,"r":52,"d":2.53},{"x":563428,"y":6181737,"r":53,"d":2.53},{"x":563537,"y":6181737,"r":54,"d":2.54},{"x":563645,"y":6181737,"r":54,"d":2.54},{"x":563754,"y":6181737,"r":54,"d":2.54},{"x":563862,"y":6181737,"r":54,"d":2.54},{"x":563971,"y":6181737,"r":53,"d":2.55},{"x":564079,"y":6181737,"r":53,"d":2.55},{"x":564188,"y":6181737,"r":52,"d":2.55},{"x":564296,"y":6181737,"r":51,"d":2.56},{"x":564405,"y":6181737,"r":50,"d":2.56},{"x":564513,"y":6181737,"r":49,"d":2.57},{"x":564622,"y":6181737,"r":48,"d":2.58},{"x":564730,"y":6181737,"r":47,"d":2.58},{"x":564839,"y":6181737,"r":46,"d":2.59},
{"x":561801,"y":6181629,"r":42,"d":2.38},{"x":561909,"y":6181629,"r":44,"d":2.42},{"x":562018,"y":6181629,"r":46,"d":2.46},{"x":562126,"y":6181629,"r":46,"d":2.48},{"x":562235,"y":6181629,"r":46,"d":2.49},{"x":562343,"y":6181629,"r":47,"d":2.49},{"x":562452,"y":6181629,"r":48,"d":2.49},{"x":562560,"y":6181629,"r":49,"d":2.49},{"x":562669,"y":6181629,"r":49,"d":2.49},{"x":562777,"y":6181629,"r":50,"d":2.5},{"x":562886,"y":6181629,"r":51,"d":2.5},{"x":562994,"y":6181629,"r":51,"d":2.5},{"x":563103,"y":6181629,"r":51,"d":2.51},{"x":563211,"y":6181629,"r":52,"d":2.51},{"x":563320,"y":6181629,"r":53,"d":2.51},{"x":563428,"y":6181629,"r":53,"d":2.51},{"x":563537,"y":6181629,"r":54,"d":2.51},{"x":563645,"y":6181629,"r":54,"d":2.52},{"x":563754,"y":6181629,"r":54,"d":2.52},{"x":563862,"y":6181629,"r":54,"d":2.52},{"x":563971,"y":6181629,"r":54,"d":2.53},{"x":564079,"y":6181629,"r":54,"d":2.53},{"x":564188,"y":6181629,"r":54,"d":2.54},{"x":564296,"y":6181629,"r":53,"d":2.54},{"x":564405,"y":6181629,"r":52,"d":2.55},{"x":564513,"y":6181629,"r":51,"d":2.56},{"x":564622,"y":6181629,"r":50,"d":2.57},{"x":564730,"y":6181629,"r":49,"d":2.57},{"x":564839,"y":6181629,"r":47,"d":2.58},
{"x":562018,"y":6181521,"r":47,"d":2.42},{"x":562126,"y":6181521,"r":48,"d":2.44},{"x":562235,"y":6181521,"r":48,"d":2.45},{"x":562343,"y":6181521,"r":49,"d":2.46},{"x":562452,"y":6181521,"r":50,"d":2.46},{"x":562560,"y":6181521,"r":50,"d":2.47},{"x":562669,"y":6181521,"r":51,"d":2.47},{"x":562777,"y":6181521,"r":51,"d":2.47},{"x":562886,"y":6181521,"r":51,"d":2.48},{"x":562994,"y":6181521,"r":52,"d":2.48},{"x":563103,"y":6181521,"r":52,"d":2.49},{"x":563211,"y":6181521,"r":52,"d":2.49},{"x":563320,"y":6181521,"r":53,"d":2.49},{"x":563428,"y":6181521,"r":53,"d":2.49},{"x":563537,"y":6181521,"r":54,"d":2.5},{"x":563645,"y":6181521,"r":54,"d":2.5},{"x":563754,"y":6181521,"r":55,"d":2.5},{"x":563862,"y":6181521,"r":55,"d":2.51},{"x":563971,"y":6181521,"r":55,"d":2.51},{"x":564079,"y":6181521,"r":54,"d":2.51},{"x":564188,"y":6181521,"r":54,"d":2.52},{"x":564296,"y":6181521,"r":53,"d":2.52},{"x":564405,"y":6181521,"r":52,"d":2.53},{"x":564513,"y":6181521,"r":51,"d":2.54},{"x":564622,"y":6181521,"r":50,"d":2.55},{"x":564730,"y":6181521,"r":48,"d":2.56},{"x":564839,"y":6181521,"r":47,"d":2.57},
{"x":562452,"y":6181413,"r":50,"d":2.43},{"x":562560,"y":6181413,"r":50,"d":2.44},{"x":562669,"y":6181413,"r":51,"d":2.44},{"x":562777,"y":6181413,"r":51,"d":2.45},{"x":562886,"y":6181413,"r":51,"d":2.45},{"x":562994,"y":6181413,"r":51,"d":2.46},{"x":563103,"y":6181413,"r":52,"d":2.46},{"x":563211,"y":6181413,"r":52,"d":2.47},{"x":563320,"y":6181413,"r":52,"d":2.47},{"x":563428,"y":6181413,"r":53,"d":2.47},{"x":563537,"y":6181413,"r":53,"d":2.48},{"x":563645,"y":6181413,"r":53,"d":2.48},{"x":563754,"y":6181413,"r":54,"d":2.48},{"x":563862,"y":6181413,"r":54,"d":2.49},{"x":563971,"y":6181413,"r":54,"d":2.49},{"x":564079,"y":6181413,"r":55,"d":2.5},{"x":564188,"y":6181413,"r":55,"d":2.5},{"x":564296,"y":6181413,"r":54,"d":2.51},{"x":564405,"y":6181413,"r":54,"d":2.51},{"x":564513,"y":6181413,"r":53,"d":2.52},{"x":564622,"y":6181413,"r":52,"d":2.53},{"x":564730,"y":6181413,"r":51,"d":2.54},{"x":564839,"y":6181413,"r":50,"d":2.55},
{"x":562777,"y":6181305,"r":51,"d":2.43},{"x":562886,"y":6181305,"r":51,"d":2.44},{"x":562994,"y":6181305,"r":51,"d":2.44},{"x":563103,"y":6181305,"r":52,"d":2.45},{"x":563211,"y":6181305,"r":52,"d":2.45},{"x":563320,"y":6181305,"r":52,"d":2.46},{"x":563428,"y":6181305,"r":52,"d":2.46},{"x":563537,"y":6181305,"r":53,"d":2.46},{"x":563645,"y":6181305,"r":53,"d":2.47},{"x":563754,"y":6181305,"r":53,"d":2.47},{"x":563862,"y":6181305,"r":54,"d":2.47},{"x":563971,"y":6181305,"r":54,"d":2.48},{"x":564079,"y":6181305,"r":54,"d":2.48},{"x":564188,"y":6181305,"r":55,"d":2.48},{"x":564296,"y":6181305,"r":55,"d":2.49},{"x":564405,"y":6181305,"r":55,"d":2.49},{"x":564513,"y":6181305,"r":54,"d":2.5},{"x":564622,"y":6181305,"r":54,"d":2.51},{"x":564730,"y":6181305,"r":53,"d":2.51},{"x":564839,"y":6181305,"r":52,"d":2.52},{"x":564947,"y":6181305,"r":51,"d":2.53},
{"x":563211,"y":6181197,"r":52,"d":2.44},{"x":563320,"y":6181197,"r":52,"d":2.44},{"x":563428,"y":6181197,"r":53,"d":2.45},{"x":563537,"y":6181197,"r":53,"d":2.45},{"x":563645,"y":6181197,"r":53,"d":2.45},{"x":563754,"y":6181197,"r":53,"d":2.46},{"x":563862,"y":6181197,"r":54,"d":2.46},{"x":563971,"y":6181197,"r":54,"d":2.46},{"x":564079,"y":6181197,"r":54,"d":2.47},{"x":564188,"y":6181197,"r":55,"d":2.47},{"x":564296,"y":6181197,"r":55,"d":2.48},{"x":564405,"y":6181197,"r":55,"d":2.48},{"x":564513,"y":6181197,"r":55,"d":2.49},{"x":564622,"y":6181197,"r":54,"d":2.5},{"x":564730,"y":6181197,"r":54,"d":2.5},{"x":564839,"y":6181197,"r":53,"d":2.51},{"x":564947,"y":6181197,"r":52,"d":2.52},
{"x":563645,"y":6181089,"r":53,"d":2.44},{"x":563754,"y":6181089,"r":53,"d":2.44},{"x":563862,"y":6181089,"r":53,"d":2.45},{"x":563971,"y":6181089,"r":54,"d":2.45},{"x":564079,"y":6181089,"r":54,"d":2.45},{"x":564188,"y":6181089,"r":54,"d":2.45},{"x":564296,"y":6181089,"r":55,"d":2.46},{"x":564405,"y":6181089,"r":55,"d":2.46},{"x":564513,"y":6181089,"r":55,"d":2.47},{"x":564622,"y":6181089,"r":55,"d":2.48},{"x":564730,"y":6181089,"r":54,"d":2.48},{"x":564839,"y":6181089,"r":54,"d":2.49},{"x":564947,"y":6181089,"r":53,"d":2.5},
{"x":563971,"y":6180981,"r":53,"d":2.43},{"x":564079,"y":6180981,"r":54,"d":2.44},{"x":564188,"y":6180981,"r":54,"d":2.44},{"x":564296,"y":6180981,"r":54,"d":2.44},{"x":564405,"y":6180981,"r":55,"d":2.45},{"x":564513,"y":6180981,"r":55,"d":2.45},{"x":564622,"y":6180981,"r":55,"d":2.46},{"x":564730,"y":6180981,"r":55,"d":2.46},{"x":564839,"y":6180981,"r":54,"d":2.47},{"x":564947,"y":6180981,"r":54,"d":2.48},{"x":565056,"y":6180981,"r":54,"d":2.49},
{"x":564405,"y":6180873,"r":55,"d":2.45},{"x":564513,"y":6180873,"r":55,"d":2.45},{"x":564622,"y":6180873,"r":55,"d":2.45},{"x":564730,"y":6180873,"r":54,"d":2.46},{"x":564839,"y":6180873,"r":54,"d":2.46},{"x":564947,"y":6180873,"r":54,"d":2.47},{"x":565056,"y":6180873,"r":54,"d":2.47},
{"x":564839,"y":6180765,"r":55,"d":2.45},{"x":564947,"y":6180765,"r":55,"d":2.45},{"x":565056,"y":6180765,"r":54,"d":2.46},
{"x":565164,"y":6180657,"r":55,"d":2.46}
],
"sites":[{"n":"29","x":560959,"y":6184864},{"n":"27","x":563753,"y":6184864},{"n":"26","x":561645,"y":6184147},{"n":"14","x":563057,"y":6184147},{"n":"13","x":562003,"y":6183798},{"n":"10","x":562689,"y":6183798},{"n":"9","x":562167,"y":6183627},{"n":"6","x":562525,"y":6183627},{"n":"5","x":562266,"y":6183532},{"n":"2","x":562433,"y":6183532},{"n":"3","x":562436,"y":6183371},{"n":"8","x":562167,"y":6183268},{"n":"4","x":562371,"y":6183268},{"n":"7","x":562525,"y":6183268},{"n":"12","x":562010,"y":6183081},{"n":"11","x":562696,"y":6183081},{"n":"15","x":563349,"y":6183460},{"n":"18","x":561635,"y":6182763},{"n":"16","x":563057,"y":6182743},{"n":"17","x":562402,"y":6182449},{"n":"28","x":560952,"y":6182039},{"n":"21","x":561972,"y":6181486},{"n":"20","x":563753,"y":6182039},{"n":"19","x":564347,"y":6183398},{"n":"22","x":565145,"y":6180622}],
"contL":[
{"g":1,"i":1,"x":561048,"y":6184574},{"g":1,"i":2,"x":561079,"y":6184641},{"g":1,"i":3,"x":561164,"y":6184693},
{"g":2,"i":1,"x":561471,"y":6184720},{"g":2,"i":2,"x":561515,"y":6184764},
{"g":3,"i":1,"x":561146,"y":6181964},{"g":3,"i":2,"x":561191,"y":6182090},{"g":3,"i":3,"x":561328,"y":6182384},{"g":3,"i":4,"x":561379,"y":6182517},{"g":3,"i":5,"x":561447,"y":6182722},{"g":3,"i":6,"x":561594,"y":6183166},{"g":3,"i":7,"x":561696,"y":6183047},{"g":3,"i":8,"x":561737,"y":6182876},{"g":3,"i":9,"x":561873,"y":6182705},{"g":3,"i":10,"x":562146,"y":6182484},
{"g":4,"i":1,"x":562420,"y":6182415},{"g":4,"i":2,"x":562471,"y":6182381},{"g":4,"i":3,"x":562692,"y":6182476},{"g":4,"i":4,"x":562999,"y":6182551},{"g":4,"i":5,"x":563306,"y":6182740},{"g":4,"i":6,"x":563545,"y":6182945},{"g":4,"i":7,"x":563750,"y":6183098},{"g":4,"i":8,"x":563859,"y":6183160},{"g":4,"i":9,"x":563978,"y":6183235},{"g":4,"i":10,"x":563971,"y":6183371},{"g":4,"i":11,"x":563961,"y":6183406},{"g":4,"i":12,"x":563948,"y":6184328},{"g":4,"i":13,"x":563971,"y":6184355},
{"g":5,"i":1,"x":562733,"y":6183730},{"g":5,"i":2,"x":562675,"y":6183611},{"g":5,"i":3,"x":562641,"y":6183422},{"g":5,"i":4,"x":562617,"y":6183235},{"g":5,"i":5,"x":562522,"y":6183183},{"g":5,"i":6,"x":562334,"y":6183176},{"g":5,"i":7,"x":562231,"y":6183217},{"g":5,"i":8,"x":562249,"y":6183320},{"g":5,"i":9,"x":562282,"y":6183406},{"g":5,"i":10,"x":562256,"y":6183508},{"g":5,"i":11,"x":562231,"y":6183611},{"g":5,"i":12,"x":562334,"y":6183559},{"g":5,"i":13,"x":562436,"y":6183406},{"g":5,"i":14,"x":562471,"y":6183388},{"g":5,"i":15,"x":562538,"y":6183473},{"g":5,"i":16,"x":562556,"y":6183611},{"g":5,"i":17,"x":562505,"y":6183652},{"g":5,"i":18,"x":562351,"y":6183678},
{"g":6,"i":1,"x":561624,"y":6181732},{"g":6,"i":2,"x":561805,"y":6182115},{"g":6,"i":3,"x":562044,"y":6181944},
{"g":7,"i":1,"x":562368,"y":6181995},{"g":7,"i":2,"x":562487,"y":6182023},{"g":7,"i":3,"x":562897,"y":6182210},{"g":7,"i":4,"x":563200,"y":6182330},{"g":7,"i":5,"x":563511,"y":6182484},{"g":7,"i":6,"x":563715,"y":6182637},{"g":7,"i":7,"x":563904,"y":6182756},{"g":7,"i":8,"x":564074,"y":6182893},{"g":7,"i":9,"x":564176,"y":6182893},{"g":7,"i":10,"x":564329,"y":6182756},{"g":7,"i":11,"x":564528,"y":6182558},
{"g":8,"i":1,"x":562880,"y":6181295},{"g":8,"i":2,"x":562727,"y":6181424},{"g":8,"i":3,"x":562538,"y":6181619},{"g":8,"i":4,"x":562658,"y":6181742},{"g":8,"i":5,"x":562863,"y":6181834},{"g":8,"i":6,"x":563204,"y":6181954},{"g":8,"i":7,"x":563375,"y":6182056},{"g":8,"i":8,"x":563613,"y":6182159},{"g":8,"i":9,"x":563784,"y":6182254},
{"g":9,"i":1,"x":564074,"y":6182166},{"g":9,"i":2,"x":564961,"y":6181281}
],
"contR":[
{"g":1,"i":1,"x":561047,"y":6183637},{"g":1,"i":2,"x":561147,"y":6184600},
{"g":2,"i":1,"x":561509,"y":6184574},{"g":2,"i":2,"x":562251,"y":6184430},{"g":2,"i":3,"x":562996,"y":6184772},
{"g":3,"i":1,"x":562254,"y":6183470},{"g":3,"i":2,"x":562152,"y":6183614},{"g":3,"i":3,"x":562090,"y":6183716},{"g":3,"i":4,"x":562080,"y":6183832},{"g":3,"i":5,"x":562316,"y":6183901},{"g":3,"i":6,"x":562357,"y":6183962},{"g":3,"i":7,"x":562952,"y":6184085},{"g":3,"i":8,"x":563157,"y":6184085},{"g":3,"i":9,"x":563290,"y":6184239},{"g":3,"i":10,"x":563465,"y":6184382},{"g":3,"i":11,"x":563649,"y":6184536},{"g":3,"i":12,"x":563721,"y":6184556},{"g":3,"i":13,"x":563875,"y":6184536},
{"g":4,"i":1,"x":561875,"y":6181613},{"g":4,"i":2,"x":561498,"y":6181964},{"g":4,"i":3,"x":561191,"y":6182261},{"g":4,"i":4,"x":561167,"y":6182398},{"g":4,"i":5,"x":561215,"y":6182722},{"g":4,"i":6,"x":561396,"y":6184344},{"g":4,"i":7,"x":561482,"y":6184395},{"g":4,"i":8,"x":562097,"y":6184287},{"g":4,"i":9,"x":562370,"y":6184208},{"g":4,"i":10,"x":562500,"y":6184106},{"g":4,"i":11,"x":562080,"y":6183832},{"g":4,"i":12,"x":561977,"y":6183730},{"g":4,"i":13,"x":561857,"y":6183235},{"g":4,"i":14,"x":561806,"y":6182927},{"g":4,"i":15,"x":561909,"y":6182886},
{"g":5,"i":1,"x":562265,"y":6182917},{"g":5,"i":2,"x":562603,"y":6183122},{"g":5,"i":3,"x":562665,"y":6183214},{"g":5,"i":4,"x":562644,"y":6183388},{"g":5,"i":5,"x":562593,"y":6183522},{"g":5,"i":6,"x":562029,"y":6183573},{"g":5,"i":7,"x":561977,"y":6183368},{"g":5,"i":8,"x":561926,"y":6183101},{"g":5,"i":9,"x":561947,"y":6183009},{"g":5,"i":10,"x":562059,"y":6183019},{"g":5,"i":11,"x":562254,"y":6183101},{"g":5,"i":12,"x":562593,"y":6183214},{"g":5,"i":13,"x":562613,"y":6183286},{"g":5,"i":14,"x":562521,"y":6183388},{"g":5,"i":15,"x":562418,"y":6183419},{"g":5,"i":16,"x":562213,"y":6183388},{"g":5,"i":17,"x":562152,"y":6183460},{"g":5,"i":18,"x":562254,"y":6183470},
{"g":6,"i":1,"x":562114,"y":6183457},{"g":6,"i":2,"x":562063,"y":6183354},{"g":6,"i":3,"x":562080,"y":6183201},{"g":6,"i":4,"x":562200,"y":6183160},{"g":6,"i":5,"x":562285,"y":6183268},{"g":6,"i":6,"x":562319,"y":6183354},
{"g":7,"i":1,"x":562421,"y":6183337},{"g":7,"i":2,"x":562508,"y":6183320},{"g":7,"i":3,"x":562541,"y":6183217},{"g":7,"i":4,"x":562470,"y":6183183},
{"g":8,"i":1,"x":563998,"y":6184116},{"g":8,"i":2,"x":563803,"y":6184136},{"g":8,"i":3,"x":563547,"y":6184136},{"g":8,"i":4,"x":563362,"y":6184003},{"g":8,"i":5,"x":563208,"y":6183849},{"g":8,"i":6,"x":562983,"y":6183911},{"g":8,"i":7,"x":562849,"y":6183942},{"g":8,"i":8,"x":562610,"y":6183901},{"g":8,"i":9,"x":562421,"y":6183781},{"g":8,"i":10,"x":562610,"y":6183593},{"g":8,"i":11,"x":562713,"y":6183409},{"g":8,"i":12,"x":562849,"y":6183153},{"g":8,"i":13,"x":563024,"y":6182897},{"g":8,"i":14,"x":563157,"y":6182702},{"g":8,"i":15,"x":562986,"y":6182756},{"g":8,"i":16,"x":562575,"y":6182886},{"g":8,"i":17,"x":562251,"y":6182681},{"g":8,"i":18,"x":561926,"y":6182722},{"g":8,"i":19,"x":561700,"y":6182784},{"g":8,"i":20,"x":561629,"y":6182794},{"g":8,"i":21,"x":561639,"y":6182907},{"g":8,"i":22,"x":561697,"y":6183030},{"g":8,"i":23,"x":561585,"y":6183320},{"g":8,"i":24,"x":561557,"y":6183030},{"g":8,"i":25,"x":561536,"y":6182774},{"g":8,"i":26,"x":561567,"y":6182620},{"g":8,"i":27,"x":561857,"y":6182312},{"g":8,"i":28,"x":562131,"y":6181964},{"g":8,"i":29,"x":562234,"y":6181930},{"g":8,"i":30,"x":562849,"y":6181954},{"g":8,"i":31,"x":563191,"y":6181982},
{"g":9,"i":1,"x":563550,"y":6181995},{"g":9,"i":2,"x":563703,"y":6181964},{"g":9,"i":3,"x":564011,"y":6181844},{"g":9,"i":4,"x":564559,"y":6181578},{"g":9,"i":5,"x":564849,"y":6181465},
{"g":10,"i":1,"x":564182,"y":6183685},{"g":10,"i":2,"x":563943,"y":6183713},{"g":10,"i":3,"x":563703,"y":6183719},{"g":10,"i":4,"x":563447,"y":6183737},{"g":10,"i":5,"x":563362,"y":6183678},{"g":10,"i":6,"x":563226,"y":6183637},{"g":10,"i":7,"x":562986,"y":6183723},{"g":10,"i":8,"x":562832,"y":6183696},{"g":10,"i":9,"x":563054,"y":6183440},{"g":10,"i":10,"x":563208,"y":6183235},{"g":10,"i":11,"x":563396,"y":6183176},
{"g":11,"i":1,"x":563755,"y":6183150},{"g":11,"i":2,"x":563875,"y":6183132},{"g":11,"i":3,"x":564080,"y":6182852},{"g":11,"i":4,"x":564524,"y":6182637},
{"g":12,"i":1,"x":562234,"y":6182490},{"g":12,"i":2,"x":562303,"y":6182381},{"g":12,"i":3,"x":562336,"y":6182346},{"g":12,"i":4,"x":562524,"y":6182346},{"g":12,"i":5,"x":562678,"y":6182371},{"g":12,"i":6,"x":562593,"y":6182398}
]
},
"hconcat":[
{"width":424.6,"height":516,"title":{"text":"Richness","font":"DejaVu Sans","fontWeight":"bold","fontSize":17.5,"color":"#222","offset":13},
"encoding":{"x":{"field":"x","type":"quantitative","scale":{"domain":[560884,565230],"nice":false,"zero":false},"axis":{"values":[561000,562000,563000,564000,565000],"format":"d","tickSize":11,"labelPadding":19,"labelFontSize":10}},"y":{"field":"y","type":"quantitative","scale":{"domain":[6180108,6185396],"nice":false,"zero":false},"axis":{"values":[6181000,6182000,6183000,6184000,6185000],"format":"d","tickSize":11,"labelPadding":13,"labelFontSize":10,"labelAngle":-90}}},
"layer":[
{"data":{"name":"grid"},"mark":{"type":"rect","width":11,"height":11,"clip":true},"encoding":{"color":{"field":"r","type":"quantitative","legend":null,"scale":{"domain":[18.15,22.76,27.36,31.97,36.58,41.18,45.79,50.39,55],"range":["#ffffd9","#edf8b1","#c7e9b4","#7fcdbb","#41b6c4","#1d91c0","#225ea8","#253494","#081d58"],"interpolate":"rgb"}}}},
{"data":{"name":"contL"},"mark":{"type":"line","stroke":"#666","strokeWidth":1.3,"clip":true},"encoding":{"detail":{"field":"g"},"order":{"field":"i"}}},
{"data":{"values":[{"t":"40","x":562215,"y":6181954},{"t":"30","x":562282,"y":6182422}]},"mark":{"type":"text","font":"Liberation Sans","fontSize":19,"color":"#777"},"encoding":{"text":{"field":"t"}}},
{"data":{"values":[{"t":"20","x":561335,"y":6184676}]},"mark":{"type":"text","font":"Liberation Sans","fontSize":19,"color":"#777","angle":-8},"encoding":{"text":{"field":"t"}}},
{"data":{"values":[{"t":"30","x":562505,"y":6183730}]},"mark":{"type":"text","font":"Liberation Sans","fontSize":19,"color":"#777","angle":-30},"encoding":{"text":{"field":"t"}}},
{"data":{"values":[{"t":"50","x":563914,"y":6182192}]},"mark":{"type":"text","font":"Liberation Sans","fontSize":19,"color":"#777","angle":12},"encoding":{"text":{"field":"t"}}},
{"data":{"name":"sites"},"mark":{"type":"text","font":"Liberation Sans","fontSize":14,"color":"#111","clip":true},"encoding":{"text":{"field":"n"}}}
]},
{"width":20,"height":516,"view":{"stroke":null},
"encoding":{"y":{"field":"v","type":"quantitative","scale":{"domain":[16.11,56.98],"nice":false,"zero":false},"axis":{"orient":"right","values":[20,25,30,35,40,45,50,55],"tickSize":12,"labelPadding":9,"labelFontSize":17}}},
"layer":[
{"data":{"values":[{"v":18.4},{"v":19},{"v":19.6},{"v":20.2},{"v":20.7},{"v":21.3},{"v":21.9},{"v":22.5},{"v":23},{"v":23.6},{"v":24.2},{"v":24.8},{"v":25.3},{"v":25.9},{"v":26.5},{"v":27.1},{"v":27.7},{"v":28.2},{"v":28.8},{"v":29.4},{"v":30},{"v":30.5},{"v":31.1},{"v":31.7},{"v":32.3},{"v":32.8},{"v":33.4},{"v":34},{"v":34.6},{"v":35.1},{"v":35.7},{"v":36.3},{"v":36.9},{"v":37.4},{"v":38},{"v":38.6},{"v":39.2},{"v":39.8},{"v":40.3},{"v":40.9},{"v":41.5},{"v":42.1},{"v":42.6},{"v":43.2},{"v":43.8},{"v":44.4},{"v":44.9},{"v":45.5},{"v":46.1},{"v":46.7},{"v":47.2},{"v":47.8},{"v":48.4},{"v":49},{"v":49.6},{"v":50.1},{"v":50.7},{"v":51.3},{"v":51.9},{"v":52.4},{"v":53},{"v":53.6},{"v":54.2},{"v":54.7}]},"mark":{"type":"rect","height":7.9},"encoding":{"color":{"field":"v","type":"quantitative","legend":null,"scale":{"domain":[18.15,22.76,27.36,31.97,36.58,41.18,45.79,50.39,55],"range":["#ffffd9","#edf8b1","#c7e9b4","#7fcdbb","#41b6c4","#1d91c0","#225ea8","#253494","#081d58"],"interpolate":"rgb"}}}},
{"data":{"values":[{"v":18.15,"b":55}]},"mark":{"type":"rect","fill":null,"stroke":"#222","strokeWidth":1.5},"encoding":{"y2":{"field":"b"}}}
]},
{"width":62.5,"height":516,"view":{"stroke":null},"data":{"values":[{"a":1}]},"mark":{"type":"point","opacity":0,"size":1},"encoding":{"x":{"field":"a","type":"quantitative","axis":null},"y":{"field":"a","type":"quantitative","axis":null}}},
{"width":424.3,"height":516,"title":{"text":"Diversity","font":"DejaVu Sans","fontWeight":"bold","fontSize":17.5,"color":"#222","offset":13},
"encoding":{"x":{"field":"x","type":"quantitative","scale":{"domain":[560880,565232],"nice":false,"zero":false},"axis":{"values":[561000,562000,563000,564000,565000],"format":"d","tickSize":11,"labelPadding":19,"labelFontSize":10}},"y":{"field":"y","type":"quantitative","scale":{"domain":[6180108,6185396],"nice":false,"zero":false},"axis":{"values":[6181000,6182000,6183000,6184000,6185000],"format":"d","tickSize":11,"labelPadding":13,"labelFontSize":10,"labelAngle":-90}}},
"layer":[
{"data":{"name":"grid"},"mark":{"type":"rect","width":11,"height":11,"clip":true},"encoding":{"color":{"field":"d","type":"quantitative","legend":null,"scale":{"domain":[1.676,1.833,1.99,2.147,2.304,2.461,2.618,2.775,2.932],"range":["#ffffd9","#edf8b1","#c7e9b4","#7fcdbb","#41b6c4","#1d91c0","#225ea8","#253494","#081d58"],"interpolate":"rgb"}}}},
{"data":{"name":"contR"},"mark":{"type":"line","stroke":"#666","strokeWidth":1.3,"clip":true},"encoding":{"detail":{"field":"g"},"order":{"field":"i"}}},
{"data":{"values":[{"t":"2.2","x":561304,"y":6184574},{"t":"2.4","x":562087,"y":6182859},{"t":"2.8","x":562405,"y":6182415},{"t":"2.6","x":563362,"y":6181954},{"t":"2.8","x":563591,"y":6183139}]},"mark":{"type":"text","font":"Liberation Sans","fontSize":19,"color":"#777"},"encoding":{"text":{"field":"t"}}},
{"data":{"name":"sites"},"mark":{"type":"text","font":"Liberation Sans","fontSize":14,"color":"#111","clip":true},"encoding":{"text":{"field":"n"}}}
]},
{"width":20,"height":516,"view":{"stroke":null},
"encoding":{"y":{"field":"v","type":"quantitative","scale":{"domain":[1.6065,2.9996],"nice":false,"zero":false},"axis":{"orient":"right","values":[1.8,2.0,2.2,2.4,2.6,2.8],"format":".1f","tickSize":12,"labelPadding":9,"labelFontSize":17}}},
"layer":[
{"data":{"values":[{"v":1.69},{"v":1.71},{"v":1.73},{"v":1.75},{"v":1.76},{"v":1.78},{"v":1.8},{"v":1.82},{"v":1.84},{"v":1.86},{"v":1.88},{"v":1.9},{"v":1.92},{"v":1.94},{"v":1.96},{"v":1.98},{"v":2},{"v":2.02},{"v":2.04},{"v":2.06},{"v":2.08},{"v":2.1},{"v":2.12},{"v":2.14},{"v":2.16},{"v":2.18},{"v":2.2},{"v":2.22},{"v":2.24},{"v":2.26},{"v":2.27},{"v":2.29},{"v":2.31},{"v":2.33},{"v":2.35},{"v":2.37},{"v":2.39},{"v":2.41},{"v":2.43},{"v":2.45},{"v":2.47},{"v":2.49},{"v":2.51},{"v":2.53},{"v":2.55},{"v":2.57},{"v":2.59},{"v":2.61},{"v":2.63},{"v":2.65},{"v":2.67},{"v":2.69},{"v":2.71},{"v":2.73},{"v":2.75},{"v":2.77},{"v":2.78},{"v":2.8},{"v":2.82},{"v":2.84},{"v":2.86},{"v":2.88},{"v":2.9},{"v":2.92}]},"mark":{"type":"rect","height":7.9},"encoding":{"color":{"field":"v","type":"quantitative","legend":null,"scale":{"domain":[1.676,1.833,1.99,2.147,2.304,2.461,2.618,2.775,2.932],"range":["#ffffd9","#edf8b1","#c7e9b4","#7fcdbb","#41b6c4","#1d91c0","#225ea8","#253494","#081d58"],"interpolate":"rgb"}}}},
{"data":{"values":[{"v":1.676,"b":2.932}]},"mark":{"type":"rect","fill":null,"stroke":"#222","strokeWidth":1.5},"encoding":{"y2":{"field":"b"}}}
]}
],
"resolve":{"scale":{"color":"independent","x":"independent","y":"independent"}}
}
